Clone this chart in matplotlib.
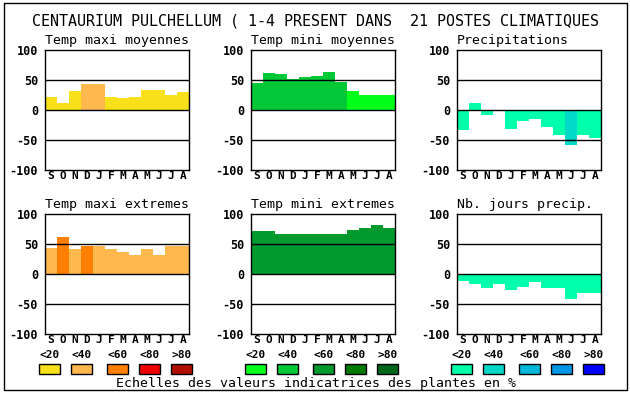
import matplotlib
matplotlib.use("Agg")
import matplotlib.pyplot as plt
from matplotlib.patches import Rectangle

W, H = 630, 394

months = ['S', 'O', 'N', 'D', 'J', 'F', 'M', 'A', 'M', 'J', 'J', 'A']
classes = ['<20', '<40', '<60', '<80', '>80']

# colour scales (one per variable family)
warm_colors = ['#f8e11a', '#ffb84d', '#ff8000', '#ee0000', '#b00f00']
green_colors = ['#00ff19', '#00c837', '#009a2e', '#007a00', '#00661a']
water_colors = ['#00ffaa', '#00d8c8', '#00b8dc', '#0096e6', '#0000ff']

# panel values (bar heights) and indicator class of each month
tmax_moy = [22, 12, 32, 43, 43, 22, 20, 22, 33, 33, 25, 30]
tmax_moy_cls = [0, 0, 0, 1, 1, 0, 0, 0, 0, 0, 0, 0]
tmin_moy = [45, 62, 60, 52, 55, 57, 63, 47, 32, 25, 25, 25]
tmin_moy_cls = [1, 1, 1, 1, 1, 1, 1, 1, 0, 0, 0, 0]
precip = [-34, 12, -8, 0, -31, -18, -15, -28, -41, -58, -41, -46]
precip_cls = [0, 0, 0, 0, 0, 0, 0, 0, 0, 1, 0, 0]
tmax_ext = [44, 62, 42, 46, 47, 42, 36, 31, 41, 32, 47, 47]
tmax_ext_cls = [1, 2, 1, 2, 1, 1, 1, 1, 1, 1, 1, 1]
tmin_ext = [71, 71, 67, 67, 67, 66, 66, 67, 74, 77, 81, 77]
tmin_ext_cls = [2] * 12
jours_precip = [-11, -16, -24, -16, -26, -21, -14, -24, -24, -41, -32, -31]
jours_precip_cls = [0] * 12

title = "CENTAURIUM PULCHELLUM ( 1-4 PRESENT DANS  21 POSTES CLIMATIQUES"
footer = "Echelles des valeurs indicatrices des plantes en %"

panels = [
    ("Temp maxi moyennes", tmax_moy, tmax_moy_cls, warm_colors, 45, 50),
    ("Temp mini moyennes", tmin_moy, tmin_moy_cls, green_colors, 251, 50),
    ("Precipitations", precip, precip_cls, water_colors, 457, 50),
    ("Temp maxi extremes", tmax_ext, tmax_ext_cls, warm_colors, 45, 214),
    ("Temp mini extremes", tmin_ext, tmin_ext_cls, green_colors, 251, 214),
    ("Nb. jours precip.", jours_precip, jours_precip_cls, water_colors, 457, 214),
]

mono = 'DejaVu Sans Mono'


def fx(x):
    return x / W


def fy(y):
    return 1 - y / H


fig = plt.figure(figsize=(W / 100, H / 100), dpi=100)

for name, vals, cls, pal, x0, y0 in panels:
    ax = fig.add_axes([fx(x0), fy(y0 + 120), 144 / W, 120 / H])
    ax.bar(range(12), vals, width=1.0, color=[pal[c] for c in cls],
           linewidth=0, zorder=1)
    for yl in (50, 0, -50):
        ax.axhline(yl, color='black', linewidth=1.0, zorder=3)
    ax.set_xlim(-0.5, 11.5)
    ax.set_ylim(-100, 100)
    ax.set_yticks([-100, -50, 0, 50, 100])
    ax.set_yticklabels(['-100', '-50', '0', '50', '100'],
                       fontfamily=mono, fontweight='bold', fontsize=8.5)
    ax.set_xticks(range(12))
    ax.set_xticklabels(months, fontfamily=mono, fontweight='bold', fontsize=8)
    ax.tick_params(length=0)
    ax.tick_params(axis='y', pad=5)
    ax.tick_params(axis='x', pad=1)
    for sp in ax.spines.values():
        sp.set_linewidth(1.0)
    fig.text(fx(x0), fy(y0 - 6), name, fontfamily=mono, fontsize=9.5,
             ha='left', va='baseline')

fig.text(fx(315), fy(25), title, fontfamily=mono, fontsize=10.8,
         ha='center', va='baseline')

# legend swatches under each column
offsets = [39, 71, 107, 139, 171]
for pal, gx in [(warm_colors, 0), (green_colors, 206), (water_colors, 412)]:
    for i, col in enumerate(pal):
        x = offsets[i] + gx
        fig.text(fx(x + 10.5), fy(355), classes[i], fontfamily=mono,
                 fontweight='bold', fontsize=8, ha='center', va='center')
        fig.add_artist(Rectangle((fx(x), fy(374)), 21 / W, 10 / H,
                                 transform=fig.transFigure, facecolor=col,
                                 edgecolor='black', linewidth=1.0))

fig.text(fx(316), fy(387), footer, fontfamily=mono, fontsize=9.5,
         ha='center', va='baseline')

# outer frame
fig.add_artist(Rectangle((fx(4), fy(390)), 623 / W, 387 / H,
                         transform=fig.transFigure, facecolor='none',
                         edgecolor='black', linewidth=1.0))

fig.savefig('out.png', dpi=100)
